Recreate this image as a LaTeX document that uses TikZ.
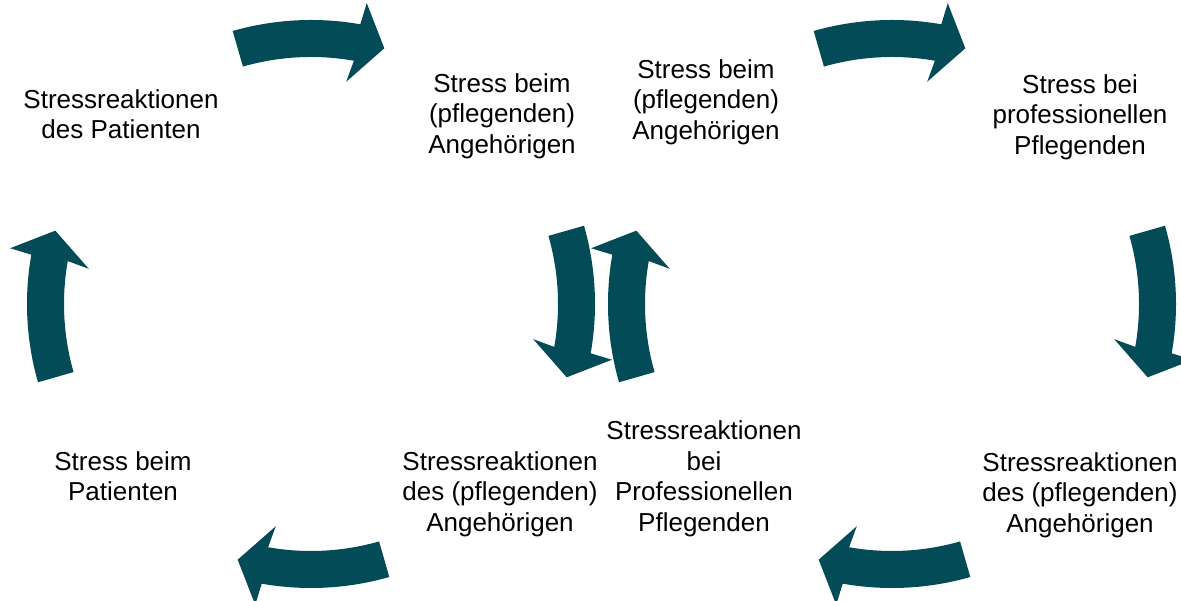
\documentclass[tikz,border=0pt]{standalone}
\usepackage{fontspec}
\setmainfont{Liberation Sans}
\usetikzlibrary{positioning}
\definecolor{pfeilfarbe}{RGB}{3,75,87}
% curved block arrow: #1 centre of the cycle, #2 middle angle (runs clockwise)
\newcommand{\bogenpfeil}[2]{%
  \fill[pfeilfarbe,shift={#1}] ({#2+16}:284) arc[start angle={#2+16},end angle={#2-10},radius=284]
    -- ({#2-10.5}:306) -- ({#2-16}:266) -- ({#2-9}:225) -- ({#2-10}:247)
    arc[start angle={#2-10},end angle={#2+16},radius=247] -- cycle;}

\begin{document}
\begin{tikzpicture}[x=1pt,y=1pt,
  txt/.style={align=center,inner sep=0pt,font=\fontsize{26}{30.5}\selectfont}]
\useasboundingbox (0,0) rectangle (1181,601);
\coordinate (L) at (311,297);
\coordinate (R) at (892,297);
% arrows of both cycles
\foreach \m in {90,0,-90,180}{
  \bogenpfeil{(L)}{\m}
  \bogenpfeil{(R)}{\m}
}
% left cycle
\node[txt] (patreak) at (121,487) {Stressreaktionen\\des Patienten};
\node[txt] (angstress) at (502,485) {Stress beim\\(pflegenden)\\Angehörigen};
\node[txt] (angreak) at (500,107) {Stressreaktionen\\des (pflegenden)\\Angehörigen};
\node[txt] (patstress) at (123,125) {Stress beim\\Patienten};
% right cycle
\node[txt] (angstress2) at (706,499) {Stress beim\\(pflegenden)\\Angehörigen};
\node[txt] (pflstress) at (1080,484) {Stress bei\\professionellen\\Pflegenden};
\node[txt] (angreak2) at (1080,106) {Stressreaktionen\\des (pflegenden)\\Angehörigen};
\node[txt] (pflreak) at (704,122) {Stressreaktionen\\bei\\Professionellen\\Pflegenden};
\end{tikzpicture}
\end{document}
